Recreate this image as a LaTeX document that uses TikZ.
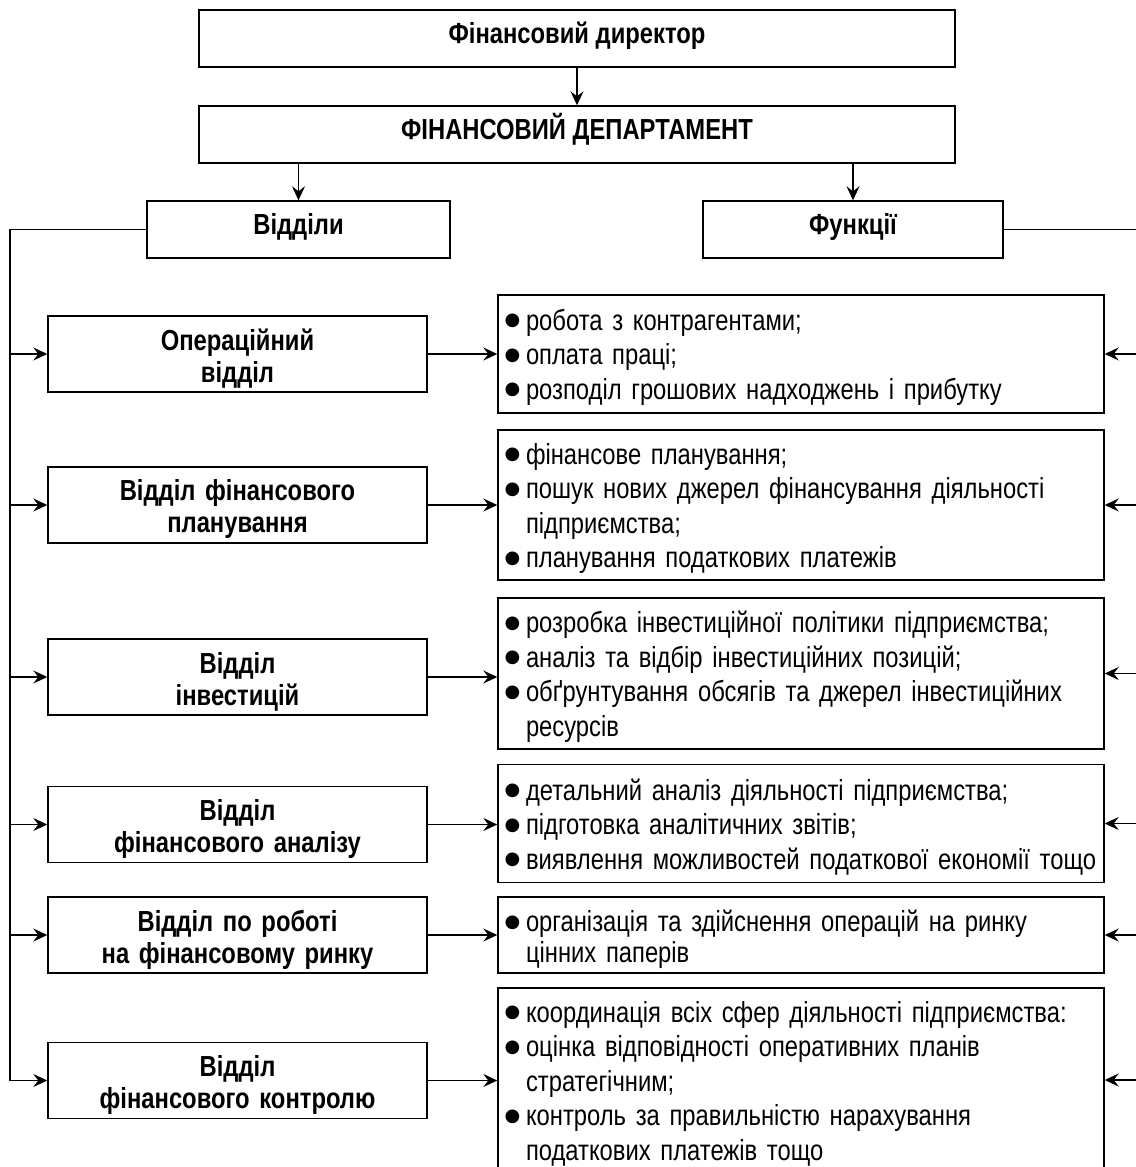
\documentclass[tikz,border=0pt]{standalone}
\usepackage{fontspec}
\setmainfont{Liberation Sans}[FakeStretch=0.82]
\newfontfamily\dotfont{DejaVu Sans}
\usetikzlibrary{arrows.meta}

% bullet item and continuation line for the function lists
\newcommand\bu{\makebox[24pt][l]{\hspace{2.5pt}\raisebox{4.5pt}{\dotfont\fontsize{18}{18}\selectfont ●}}}
\newcommand\li[1]{\bu\mbox{#1}}
\newcommand\lc[1]{\hspace*{24pt}\mbox{#1}}

\tikzset{
  box/.style={draw, line width=1.4pt, rectangle, inner sep=0pt},
  headbox/.style={box, font=\bfseries\fontsize{29}{34}\selectfont,
    text height=21pt, text depth=12pt},
  deptbox/.style={box, minimum width=379pt, minimum height=76pt,
    text width=371pt, align=center,
    font=\bfseries\fontsize{29}{32}\selectfont, text height=30pt},
  funbox/.style={box, minimum width=606pt, text width=598pt, inner xsep=4pt,
    align=left, font=\fontsize{29}{34.5}\selectfont, text height=28pt},
  arr/.style={line width=1.3pt, -{Stealth[length=14pt,width=13pt,inset=5pt]}},
  link/.style={line width=1.3pt},
}

\begin{document}
\begin{tikzpicture}[x=1pt, y=-1pt]
\useasboundingbox (0,0) rectangle (1135,1167);

% top of the hierarchy
\node[headbox, minimum width=756pt, minimum height=57pt] (dir) at (577,38.5) {Фінансовий директор};
\node[headbox, minimum width=756pt, minimum height=57pt] (dept) at (577,134.5) {ФІНАНСОВИЙ ДЕПАРТАМЕНТ};
\node[headbox, minimum width=303pt, minimum height=57pt] (otd) at (298.5,229.5) {Відділи};
\node[headbox, minimum width=300pt, minimum height=57pt] (fun) at (853,229.5) {Функції};

% departments
\node[deptbox] (d1) at (237.5,354)    {Операційний\\відділ};
\node[deptbox] (d2) at (237.5,505)    {Відділ фінансового\\планування};
\node[deptbox] (d3) at (237.5,677)    {Відділ\\інвестицій};
\node[deptbox] (d4) at (237.5,824.5)  {Відділ\\фінансового аналізу};
\node[deptbox] (d5) at (237.5,935)    {Відділ по роботі\\на фінансовому ринку};
\node[deptbox] (d6) at (237.5,1080.5) {Відділ\\фінансового контролю};

% functions of each department
\node[funbox, minimum height=118pt] (f1) at (801,354) {%
  \li{робота з контрагентами;}\\
  \li{оплата праці;}\\
  \li{розподіл грошових надходжень і прибутку}};
\node[funbox, minimum height=150pt] (f2) at (801,505) {%
  \li{фінансове планування;}\\
  \li{пошук нових джерел фінансування діяльності}\\
  \lc{підприємства;}\\
  \li{планування податкових платежів}};
\node[funbox, minimum height=151pt] (f3) at (801,673.5) {%
  \li{розробка інвестиційної політики підприємства;}\\
  \li{аналіз та відбір інвестиційних позицій;}\\
  \li{обґрунтування обсягів та джерел інвестиційних}\\
  \lc{ресурсів}};
\node[funbox, minimum height=118pt] (f4) at (801,823.5) {%
  \li{детальний аналіз діяльності підприємства;}\\
  \li{підготовка аналітичних звітів;}\\
  \li{виявлення можливостей податкової економії тощо}};
\node[funbox, minimum height=76pt, font=\fontsize{29}{31}\selectfont, text height=30pt] (f5) at (801,935) {%
  \li{організація та здійснення операцій на ринку}\\
  \lc{цінних паперів}};
\node[funbox, minimum height=184pt] (f6) at (801,1080) {%
  \li{координація всіх сфер діяльності підприємства:}\\
  \li{оцінка відповідності оперативних планів}\\
  \lc{стратегічним;}\\
  \li{контроль за правильністю нарахування}\\
  \lc{податкових платежів тощо}};

% connectors
\coordinate (lt) at (10,229.5);
\coordinate (rt) at (1141,229.5);

\draw[arr] (dir) -- (dept);
\draw[arr] (dept.south -| otd.north) -- (otd.north);
\draw[arr] (dept.south -| fun.north) -- (fun.north);

\draw[link] (otd.west) -- (lt) -- (lt |- d6.west);
\draw[link] (fun.east) -- (rt) -- (rt |- f6.east);

\foreach \i in {1,...,6}{
  \draw[arr] (lt |- d\i.west) -- (d\i.west);
  \draw[arr] (d\i.east) -- (d\i.east -| f\i.west);
  \draw[arr] (rt |- f\i.east) -- (f\i.east);
}
\end{tikzpicture}
\end{document}
